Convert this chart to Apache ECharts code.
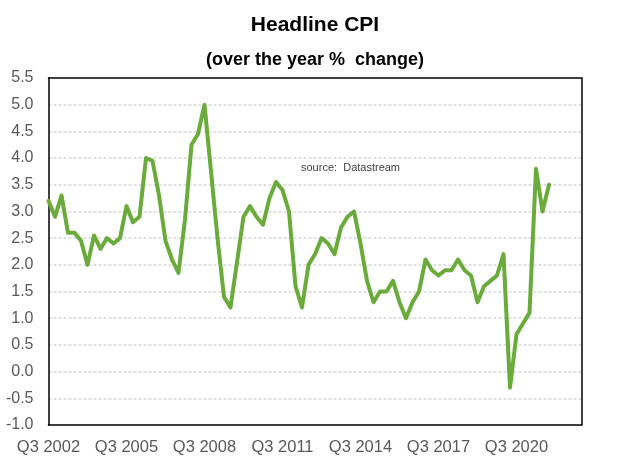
<!DOCTYPE html>
<html>
<head>
<meta charset="utf-8">
<script src="https://cdn.jsdelivr.net/npm/echarts@6/dist/echarts.min.js"></script>
<style>
  html, body { margin: 0; padding: 0; background: #fff; }
  #chart { width: 630px; height: 470px; }
</style>
</head>
<body>
<div id="chart"></div>
<script>
// Quarterly categories, Q3 2002 through Q1 2023 (the axis runs a few quarters past the data)
const startYear = 2002, startQuarter = 3, quarterCount = 83;
const categories = [];
for (let k = 0; k < quarterCount; k++) {
  const q = (startQuarter - 1 + k) % 4 + 1;
  const y = startYear + Math.floor((startQuarter - 1 + k) / 4);
  categories.push('Q' + q + ' ' + y);
}

// Headline CPI, over-the-year % change, Q3 2002 .. Q4 2021
const cpiValues = [
  3.2, 2.9, 3.3, 2.6, 2.6, 2.45, 2.0, 2.55, 2.3, 2.5, 2.4, 2.5,
  3.1, 2.8, 2.9, 4.0, 3.95, 3.3, 2.45, 2.1, 1.85, 2.85, 4.25, 4.45,
  5.0, 3.75, 2.5, 1.4, 1.2, 2.05, 2.9, 3.1, 2.9, 2.75, 3.25, 3.55,
  3.4, 3.0, 1.6, 1.2, 2.0, 2.2, 2.5, 2.4, 2.2, 2.7, 2.9, 3.0,
  2.4, 1.7, 1.3, 1.5, 1.5, 1.7, 1.3, 1.0, 1.3, 1.5, 2.1, 1.9,
  1.8, 1.9, 1.9, 2.1, 1.9, 1.8, 1.3, 1.6, 1.7, 1.8, 2.2, -0.3,
  0.7, 0.9, 1.1, 3.8, 3.0, 3.5
];

// Y axis range and step
const yMin = -1.0, yMax = 5.5, yStep = 0.5;

const titleText = 'Headline CPI';
const subtitleText = '(over the year %  change)';
const sourceText = 'source:  Datastream';

const FONT = 'Liberation Sans, Arial, sans-serif';
const frameLine = { show: true, onZero: false, lineStyle: { color: '#000000', width: 1.5 } };

const chart = echarts.init(document.getElementById('chart'), null, { renderer: 'canvas' });

chart.setOption({
  animation: false,
  backgroundColor: '#ffffff',
  textStyle: { fontFamily: FONT },
  title: [
    {
      text: titleText,
      left: 'center',
      top: 10,
      textStyle: { fontSize: 21, fontWeight: 'bold', color: '#000000', fontFamily: FONT }
    },
    {
      text: subtitleText,
      left: 'center',
      top: 46,
      textStyle: { fontSize: 18, fontWeight: 'bold', color: '#000000', fontFamily: FONT }
    }
  ],
  graphic: [
    {
      type: 'text',
      left: 301,
      top: 162,
      style: { text: sourceText, fontSize: 11, fill: '#404040', fontFamily: FONT }
    }
  ],
  grid: { left: 48.5, right: 48.5, top: 78, bottom: 45, show: false },
  xAxis: [
    {
      type: 'category',
      data: categories,
      boundaryGap: false,
      axisLine: frameLine,
      axisTick: { show: false },
      axisLabel: {
        interval: 11,
        margin: 14,
        fontSize: 16.5,
        color: '#595959',
        fontFamily: FONT
      },
      splitLine: { show: false }
    },
    {
      // top edge of the plot frame
      type: 'category',
      data: categories,
      boundaryGap: false,
      position: 'top',
      axisLine: frameLine,
      axisTick: { show: false },
      axisLabel: { show: false },
      splitLine: { show: false }
    }
  ],
  yAxis: [
    {
      type: 'value',
      min: yMin,
      max: yMax,
      interval: yStep,
      axisLine: frameLine,
      axisTick: { show: false },
      axisLabel: {
        margin: 15,
        fontSize: 16,
        color: '#595959',
        fontFamily: FONT,
        formatter: v => v.toFixed(1)
      },
      splitLine: {
        show: true,
        showMinLine: false,
        showMaxLine: false,
        lineStyle: { color: '#d6d6d6', width: 1.5, type: [3, 2] }
      }
    },
    {
      // right edge of the plot frame
      type: 'value',
      min: yMin,
      max: yMax,
      interval: yStep,
      position: 'right',
      axisLine: frameLine,
      axisTick: { show: false },
      axisLabel: { show: false },
      splitLine: { show: false }
    }
  ],
  series: [
    {
      type: 'line',
      data: cpiValues,
      symbol: 'none',
      smooth: false,
      lineStyle: { color: '#6aab3c', width: 4, join: 'round', cap: 'round' },
      z: 3
    }
  ]
});
</script>
</body>
</html>
